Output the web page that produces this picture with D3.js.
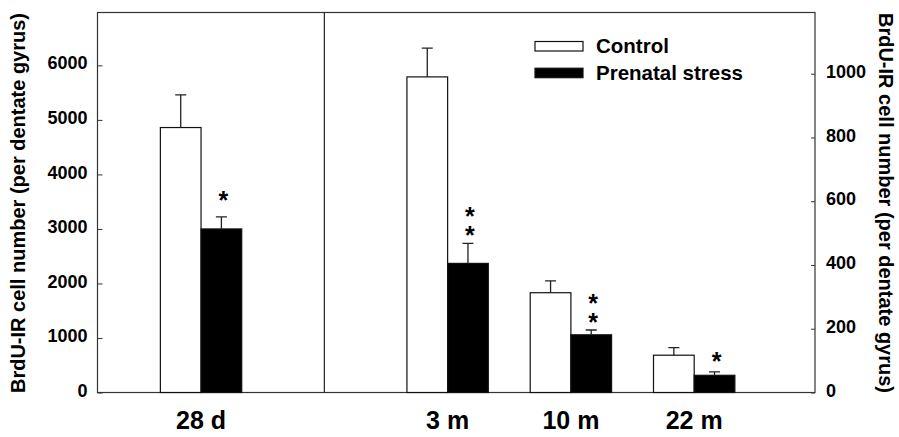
<!DOCTYPE html>
<html>
<head>
<meta charset="utf-8">
<script src="https://cdn.jsdelivr.net/npm/d3@7"></script>
<style>
  body { margin: 0; background: #fff; }
  svg { display: block; font-family: "Liberation Sans", Arial, sans-serif; }
</style>
</head>
<body>
<svg id="chart"></svg>
<script>
const categories = ['28 d', '3 m', '10 m', '22 m'];
const controlMean = [4860, 990, 313, 117];
const controlErr = [600, 90, 37, 24];
const stressMean = [3000, 405, 181, 54];
const stressErr = [220, 63, 15, 11];
const stars = ['*', '**', '**', '*'];
const leftTicks = [0, 1000, 2000, 3000, 4000, 5000, 6000];
const rightTicks = [0, 200, 400, 600, 800, 1000];
const seriesNames = ['Control', 'Prenatal stress'];

const W = 899, H = 437;
const margin = { top: 12.5, right: 84, bottom: 44.5, left: 97.5 };
const width = W - margin.left - margin.right;
const height = H - margin.top - margin.bottom;

const svg = d3.select('#chart').attr('width', W).attr('height', H);
const g = svg.append('g').attr('transform', `translate(${margin.left},${margin.top})`);

// slot 1 is the gap between the 28 d panel and the adult panel
const slot = (i) => (i === 0 ? 0 : i + 1);
const x = d3.scaleLinear().domain([-0.84, 4.98]).range([0, width]);
const yL = d3.scaleLinear().domain([0, 6970]).range([height, 0]);
const yR = d3.scaleLinear().domain([0, 1192]).range([height, 0]);
const yFor = (i) => (i === 0 ? yL : yR);
const barW = x(0.33) - x(0);

const rows = categories.map((c, i) => ({
  cat: c, i,
  vals: [
    { key: 0, mean: controlMean[i], err: controlErr[i] },
    { key: 1, mean: stressMean[i], err: stressErr[i] },
  ],
}));

// 坐标轴
g.append('g')
  .call(d3.axisLeft(yL).tickValues(leftTicks).tickFormat(d3.format('d')).tickSize(-5).tickPadding(10))
  .call((a) => a.select('.domain').remove())
  .selectAll('text')
  .attr('dy', '0.2em')
  .style('font-size', '18px')
  .style('font-weight', 'bold');

g.append('g')
  .attr('transform', `translate(${width},0)`)
  .call(d3.axisRight(yR).tickValues(rightTicks).tickFormat(d3.format('d')).tickSize(-4).tickPadding(11))
  .call((a) => a.select('.domain').remove())
  .selectAll('text')
  .attr('dy', '0.2em')
  .style('font-size', '18px')
  .style('font-weight', 'bold');

g.selectAll('.tick line').attr('stroke', '#333');

// 边框与分隔线
g.append('rect')
  .attr('width', width).attr('height', height)
  .attr('fill', 'none').attr('stroke', '#333').attr('stroke-width', 1.2);
g.append('line')
  .attr('x1', x(1)).attr('x2', x(1))
  .attr('y1', 0).attr('y2', height)
  .attr('stroke', '#222').attr('stroke-width', 1.2);

// 柱子
const grp = g.selectAll('.grp').data(rows).join('g').attr('class', 'grp');

grp.selectAll('rect')
  .data((d) => d.vals.map((v) => ({ ...v, i: d.i })))
  .join('rect')
  .attr('x', (d) => x(slot(d.i)) + (d.key === 0 ? -barW : 0))
  .attr('y', (d) => yFor(d.i)(d.mean))
  .attr('width', barW)
  .attr('height', (d) => height - yFor(d.i)(d.mean))
  .attr('fill', (d) => (d.key === 0 ? '#fff' : '#000'))
  .attr('stroke', '#111')
  .attr('stroke-width', 1.2);

// 误差线
grp.selectAll('path.err')
  .data((d) => d.vals.map((v) => ({ ...v, i: d.i })))
  .join('path')
  .attr('class', 'err')
  .attr('fill', 'none')
  .attr('stroke', '#222')
  .attr('stroke-width', 1.3)
  .attr('d', (d) => {
    const cx = x(slot(d.i)) + (d.key === 0 ? -barW / 2 : barW / 2);
    const y0 = yFor(d.i)(d.mean);
    const y1 = yFor(d.i)(d.mean + d.err);
    return `M${cx},${y0}V${y1}M${cx - 5.5},${y1}H${cx + 5.5}`;
  });

// 显著性标记（星号竖排，单个文本）
grp.each(function (d) {
  const cx = x(slot(d.i)) + barW / 2 + 2;
  const top = yFor(d.i)(stressMean[d.i] + stressErr[d.i]);
  const n = stars[d.i].length;
  const gap = n === 1 && d.i === 0 ? 24 : 18;
  d3.select(this).append('text')
    .attr('x', cx)
    .attr('y', top - gap - (n - 1) * 16 - 7)
    .style('writing-mode', 'vertical-rl')
    .style('text-orientation', 'upright')
    .style('letter-spacing', '-9px')
    .style('font-size', '25px')
    .style('font-weight', 'bold')
    .text(stars[d.i]);
});

// X 标签
g.selectAll('.xlab')
  .data(categories)
  .join('text')
  .attr('class', 'xlab')
  .attr('x', (d, i) => x(slot(i)))
  .attr('y', height + 36.5)
  .attr('text-anchor', 'middle')
  .style('font-size', '25px')
  .style('font-weight', 'bold')
  .text((d) => d);

// Y 轴标题
svg.append('text')
  .attr('transform', 'translate(17.5,203) rotate(-90)')
  .attr('dy', '0.35em')
  .attr('text-anchor', 'middle')
  .style('font-size', '20px')
  .style('font-weight', 'bold')
  .text('BrdU-IR cell number (per dentate gyrus)');

svg.append('text')
  .attr('transform', 'translate(886,203) rotate(90)')
  .attr('dy', '0.35em')
  .attr('text-anchor', 'middle')
  .style('font-size', '20px')
  .style('font-weight', 'bold')
  .text('BrdU-IR cell number (per dentate gyrus)');

// 图例
const legend = svg.append('g').attr('transform', 'translate(535,41.5)');
seriesNames.forEach((name, k) => {
  legend.append('rect')
    .attr('x', 0).attr('y', k * 26.7)
    .attr('width', 48).attr('height', 9.5)
    .attr('fill', k === 0 ? '#fff' : '#000')
    .attr('stroke', '#111').attr('stroke-width', 1.2);
  legend.append('text')
    .attr('x', 61).attr('y', k * 26.7 + 11.5)
    .style('font-size', '20.5px')
    .style('font-weight', 'bold')
    .text(name);
});
</script>
</body>
</html>
